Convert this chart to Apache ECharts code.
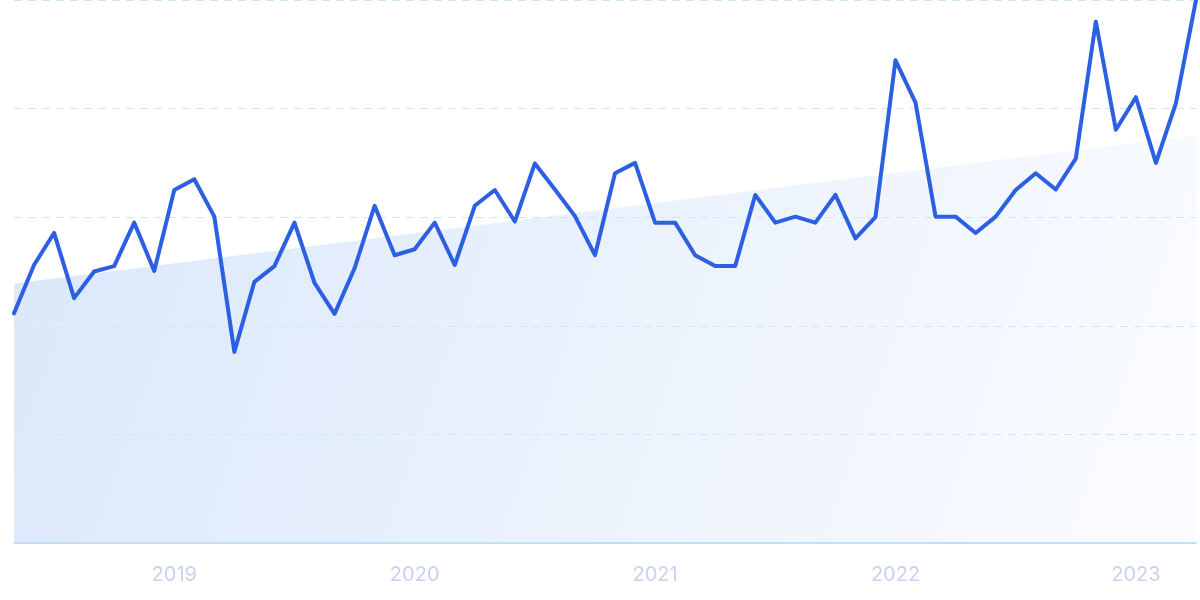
<!DOCTYPE html>
<html>
<head>
<meta charset="utf-8">
<script src="https://cdn.jsdelivr.net/npm/echarts@6/dist/echarts.min.js"></script>
<style>
html,body{margin:0;padding:0;background:#fff;}
#chart{width:1200px;height:600px;}
</style>
</head>
<body>
<div id="chart"></div>
<script>
// Monthly categories: 2018-05 .. 2023-04
const startYear = 2018, startMonth = 5, monthCount = 60;
const months = [];
for (let i = 0; i < monthCount; i++) {
  const m = startMonth - 1 + i;
  const y = startYear + Math.floor(m / 12);
  const mm = (m % 12) + 1;
  months.push(y + '-' + (mm < 10 ? '0' + mm : mm));
}
// Interest values (0-100 scale)
const values = [
  42.3, 51.2, 57.1, 45.1, 50.0, 51.0, 59.0, 50.1,
  65.0, 67.0, 60.1, 35.2, 48.1, 51.0, 59.0, 47.9, 42.2, 50.6, 62.1, 53.0,
  54.1, 59.0, 51.2, 62.1, 65.0, 59.2, 69.9, 65.1, 60.2, 53.0, 68.1, 70.0,
  59.0, 59.0, 53.0, 51.0, 51.0, 64.1, 59.0, 60.1, 59.0, 64.1, 56.1, 60.0,
  88.9, 81.1, 60.1, 60.1, 57.1, 60.1, 65.0, 68.1, 65.1, 70.8, 96.0, 76.1,
  82.1, 70.0, 81.0, 100
];
// Trend line end values
const trendStart = 47.8, trendEnd = 75.1;
const yTicks = [0, 20, 40, 60, 80, 100];

const chart = echarts.init(document.getElementById('chart'), null, {renderer: 'canvas'});
chart.setOption({
  animation: false,
  grid: {left: 14, right: 4, top: 0, bottom: 57, containLabel: false},
  xAxis: {
    type: 'category',
    data: months,
    boundaryGap: false,
    z: 3,
    axisLine: {show: true, lineStyle: {color: '#bfe0fa', width: 2}},
    axisTick: {show: false},
    splitLine: {show: false},
    axisLabel: {
      color: '#c9d3f1',
      fontSize: 20,
      fontFamily: 'Inter, Roboto, sans-serif',
      margin: 22,
      interval: function (idx, val) { return val.slice(5) === '01'; },
      formatter: function (val) { return val.slice(0, 4); }
    }
  },
  yAxis: {
    type: 'value',
    min: yTicks[0],
    max: yTicks[yTicks.length - 1],
    interval: yTicks[1] - yTicks[0],
    z: 3,
    axisLine: {show: false},
    axisTick: {show: false},
    axisLabel: {show: false},
    splitLine: {show: true, lineStyle: {color: '#cde6fb', type: [8, 6], width: 1}}
  },
  series: [
    {
      type: 'line',
      data: [[months[0], trendStart], [months[monthCount - 1], trendEnd]],
      symbol: 'none',
      silent: true,
      lineStyle: {width: 0, opacity: 0},
      areaStyle: {
        origin: 'start',
        opacity: 1,
        color: new echarts.graphic.LinearGradient(0, 0, 1, 1, [
          {offset: 0, color: '#dae8fa'},
          {offset: 1, color: '#fbfcff'}
        ])
      },
      z: 1
    },
    {
      type: 'line',
      data: values,
      symbol: 'none',
      lineStyle: {color: '#2d5fe2', width: 4, join: 'round', cap: 'round'},
      z: 5
    }
  ]
});
</script>
</body>
</html>
